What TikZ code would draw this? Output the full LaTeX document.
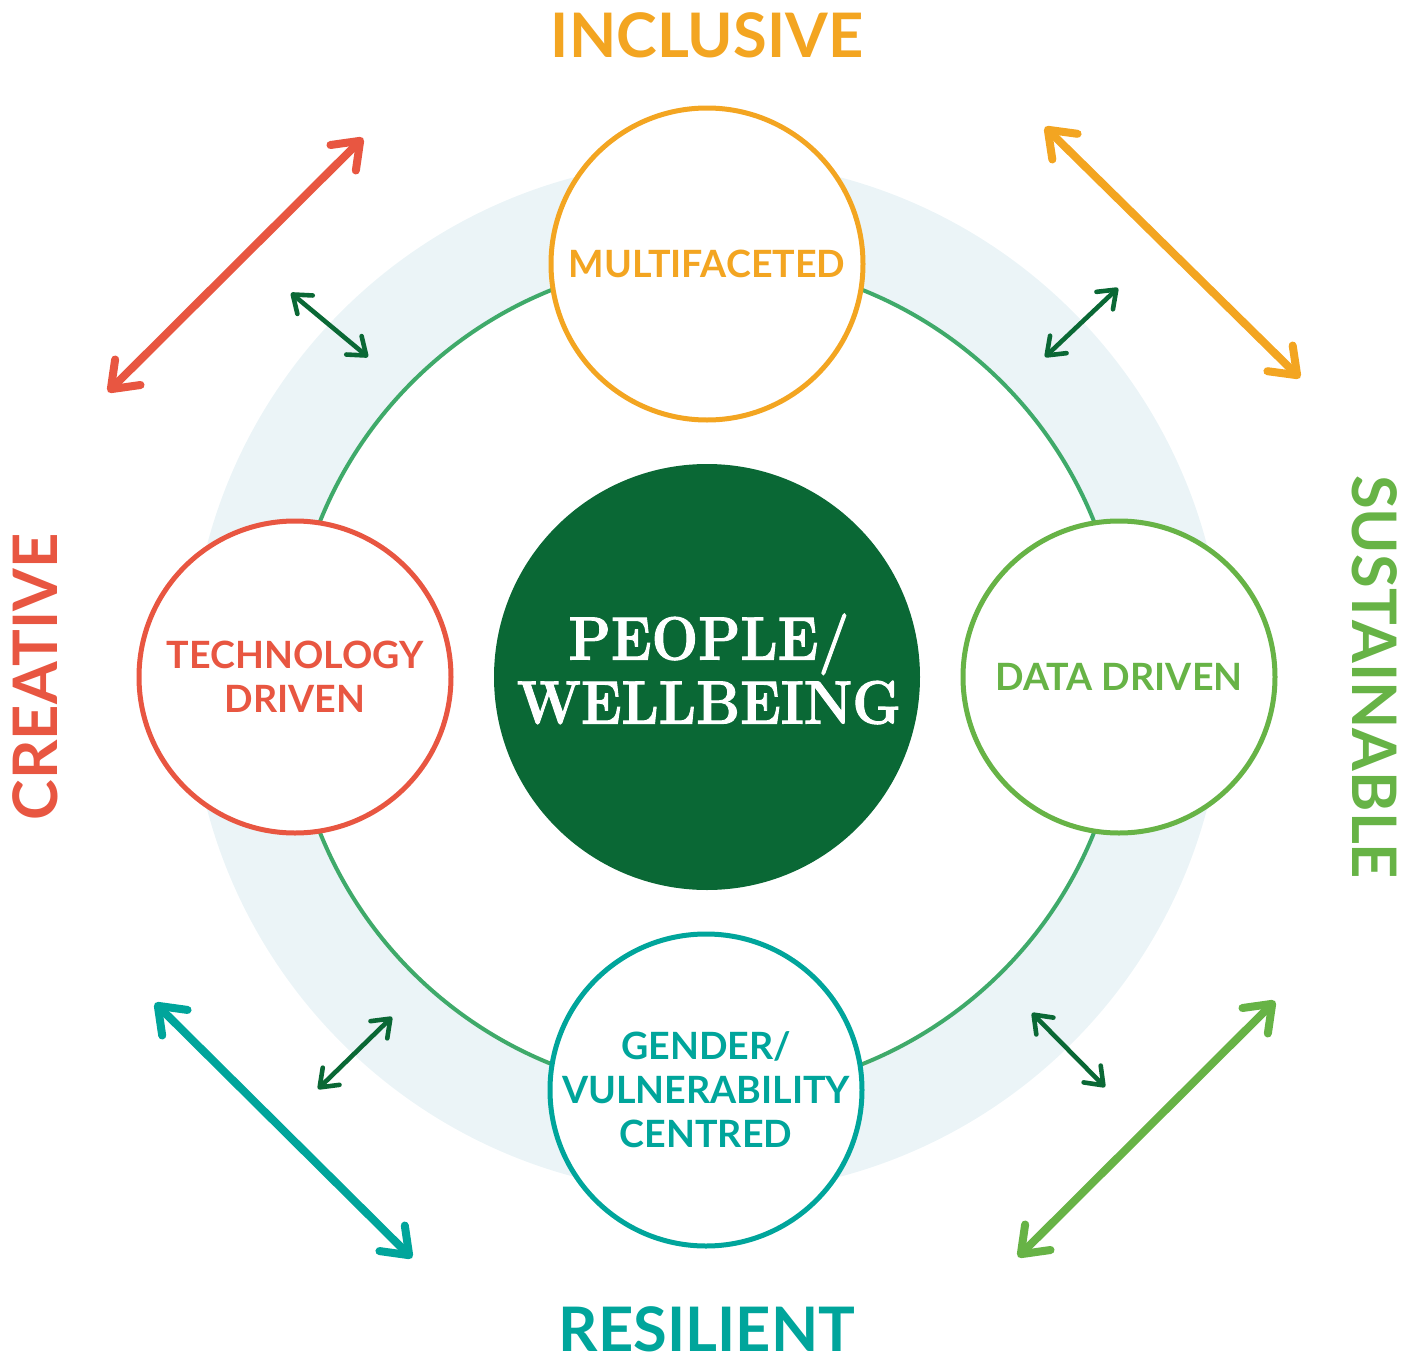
\documentclass[tikz,border=0pt]{standalone}
\usepackage{fontspec}
\setmainfont{Lato}
\newfontfamily\didone[BoldFeatures={FakeBold=1.5, FakeStretch=0.9}]{Latin Modern Roman}
\usetikzlibrary{arrows.meta}
\definecolor{inclusive}{HTML}{F3A521}
\definecolor{creative}{HTML}{E85641}
\definecolor{sustainable}{HTML}{67B346}
\definecolor{resilient}{HTML}{00A59B}
\definecolor{core}{HTML}{0A6835}
\definecolor{ring}{HTML}{3FAA6A}
\definecolor{pale}{HTML}{EBF4F7}
\begin{document}
\begin{tikzpicture}[x=0.5pt, y=-0.5pt,
    facet/.style={circle, draw=#1, text=#1, fill=white, line width=2.5pt, minimum size=156pt, inner sep=0pt, align=center, font=\bfseries\fontsize{18.8}{22}\selectfont},
    quality/.style={text=#1, inner sep=0pt, font=\bfseries\fontsize{30.7}{36}\selectfont},
    outerarrow/.style={draw=#1, line width=4pt, line cap=round, {Straight Barb[length=12pt, width=18pt, line cap=round, line join=round]}-{Straight Barb[length=12pt, width=18pt, line cap=round, line join=round]}},
    linkarrow/.style={draw=core, line width=2.3pt, line cap=round, {Straight Barb[length=8pt, width=12pt, line cap=round, line join=round]}-{Straight Barb[length=8pt, width=12pt, line cap=round, line join=round]}}]
    \useasboundingbox (0,0) rectangle (1415,1360);
    \coordinate (hub) at (707,677);
    % pale band and green ring
    \fill[pale] (hub) circle[radius=517];
    \fill[white] (hub) circle[radius=417];
    \draw[ring, line width=2pt] (hub) circle[radius=417];
    % big arrows
    \coordinate (creativeA) at (108,392);
    \coordinate (creativeB) at (363,138);
    \coordinate (inclusiveA) at (1045,127);
    \coordinate (inclusiveB) at (1300,378);
    \coordinate (resilientA) at (155,1003);
    \coordinate (resilientB) at (412,1258);
    \coordinate (sustainableA) at (1275,1001);
    \coordinate (sustainableB) at (1018,1257);
    \draw[outerarrow=creative] (creativeA) -- (creativeB);
    \draw[outerarrow=inclusive] (inclusiveA) -- (inclusiveB);
    \draw[outerarrow=resilient] (resilientA) -- (resilientB);
    \draw[outerarrow=sustainable] (sustainableA) -- (sustainableB);
    % small arrows
    \coordinate (linkNWa) at (291,293);
    \coordinate (linkNWb) at (368,357);
    \coordinate (linkNEa) at (1118,288);
    \coordinate (linkNEb) at (1045,357);
    \coordinate (linkSWa) at (392,1017);
    \coordinate (linkSWb) at (318,1089);
    \coordinate (linkSEa) at (1032,1013);
    \coordinate (linkSEb) at (1105,1087);
    \draw[linkarrow] (linkNWa) -- (linkNWb);
    \draw[linkarrow] (linkNEa) -- (linkNEb);
    \draw[linkarrow] (linkSWa) -- (linkSWb);
    \draw[linkarrow] (linkSEa) -- (linkSEb);
    % circles
    \node[facet=inclusive] (multi) at (707,264) {MULTIFACETED};
    \node[facet=creative] (tech) at (295,677) {TECHNOLOGY\\DRIVEN};
    \node[facet=sustainable] (data) at (1119,677) {DATA DRIVEN};
    \node[facet=resilient] (gender) at (706,1090) {GENDER/\\VULNERABILITY\\CENTRED};
    \node[circle, fill=core, minimum size=213pt, inner sep=0pt] (people) at (hub) {};
    \node[text=white, align=center, inner sep=0pt, font=\didone\bfseries\fontsize{30.6}{32}\selectfont] (peopletext) at (709,669) {PEOPLE/\\WELLBEING};
    % labels
    \node[quality=inclusive] (inclusive) at (707,35) {INCLUSIVE};
    \node[quality=resilient] (resilient) at (707,1329) {RESILIENT};
    \node[quality=creative, rotate=90] (creative) at (35,677) {CREATIVE};
    \node[quality=sustainable, rotate=-90] (sustainable) at (1375,677) {SUSTAINABLE};
\end{tikzpicture}
\end{document}
